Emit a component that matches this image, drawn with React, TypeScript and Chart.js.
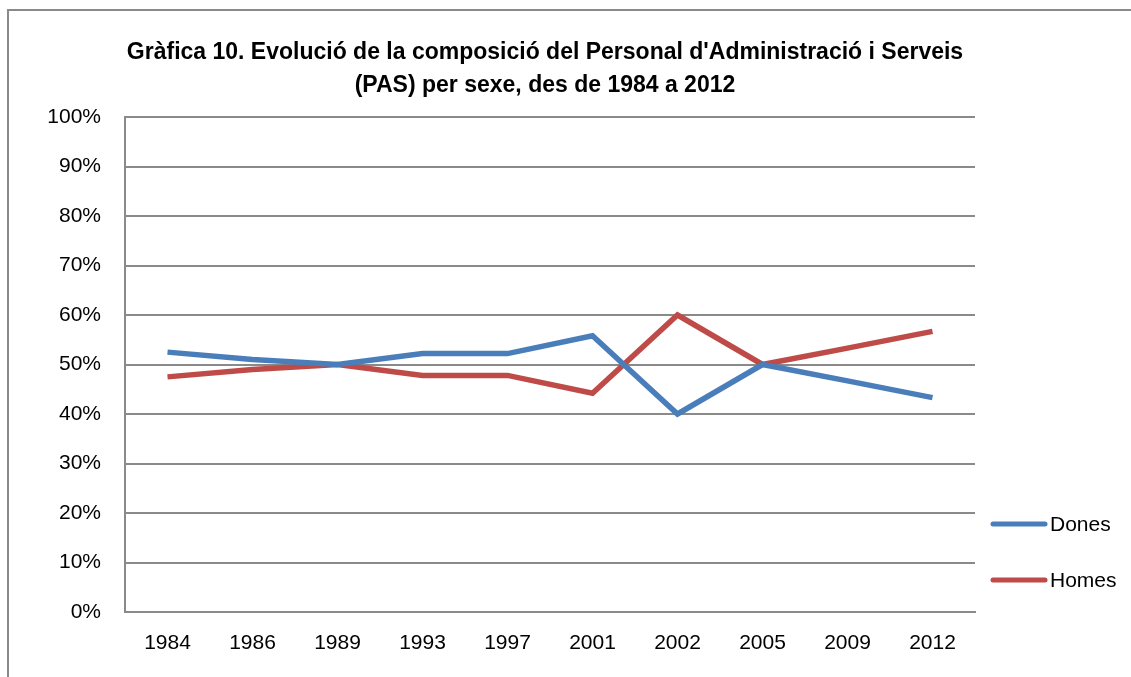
import React, { useEffect, useRef } from "react";
import { Chart, registerables } from "chart.js";

Chart.register(...registerables);

const years = ["1984", "1986", "1989", "1993", "1997", "2001", "2002", "2005", "2009", "2012"];
const dones = [52.5, 51.0, 50.0, 52.2, 52.2, 55.8, 40.0, 50.0, 46.7, 43.3];
const homes = [47.5, 49.0, 50.0, 47.8, 47.8, 44.2, 60.0, 50.0, 53.3, 56.7];
const titleLines = [
  "Gràfica 10. Evolució de la composició del Personal d'Administració i Serveis",
  "(PAS) per sexe, des de 1984 a 2012",
];
const seriesNames = ["Dones", "Homes"];
const seriesColors = ["#4a7ebb", "#be4b48"];

const FONT = "'Liberation Sans', Arial, sans-serif";

const decorPlugin = {
  id: "decor",
  beforeDraw(chart: any) {
    const ctx = chart.ctx;
    ctx.save();
    ctx.strokeStyle = "#8a8a8a";
    ctx.lineWidth = 2;
    ctx.beginPath();
    ctx.moveTo(8, 677);
    ctx.lineTo(8, 10);
    ctx.lineTo(1131, 10);
    ctx.stroke();
    ctx.restore();
  },
  afterDraw(chart: any) {
    const ctx = chart.ctx;
    ctx.save();
    // title
    ctx.fillStyle = "#000";
    ctx.font = `bold 23px ${FONT}`;
    ctx.textAlign = "center";
    ctx.textBaseline = "alphabetic";
    titleLines.forEach((t, i) => ctx.fillText(t, 545, 59 + i * 33));
    // legend
    chart.data.datasets.forEach((ds: any, i: number) => {
      const y = 524 + i * 56;
      ctx.strokeStyle = ds.borderColor;
      ctx.lineWidth = 5;
      ctx.lineCap = "round";
      ctx.beginPath();
      ctx.moveTo(993, y);
      ctx.lineTo(1045, y);
      ctx.stroke();
      ctx.fillStyle = "#000";
      ctx.font = `21px ${FONT}`;
      ctx.textAlign = "left";
      ctx.textBaseline = "middle";
      ctx.fillText(ds.label, 1050, y + 1);
    });
    ctx.restore();
  },
};

export default function App() {
  const ref = useRef<HTMLCanvasElement>(null);
  useEffect(() => {
    if (!ref.current) return;
    const chart = new Chart(ref.current, {
      type: "line",
      data: {
        labels: years,
        datasets: [
          { label: seriesNames[0], data: dones, borderColor: seriesColors[0], backgroundColor: seriesColors[0], borderWidth: 5.5, pointRadius: 0, tension: 0 },
          { label: seriesNames[1], data: homes, borderColor: seriesColors[1], backgroundColor: seriesColors[1], borderWidth: 5.5, pointRadius: 0, tension: 0 },
        ],
      },
      options: {
        responsive: false,
        animation: false,
        layout: { padding: { left: 0, top: 117, right: 156, bottom: 15 } },
        plugins: { legend: { display: false }, title: { display: false }, tooltip: { enabled: false } },
        scales: {
          x: {
            offset: true,
            grid: { display: false, drawTicks: false },
            border: { display: true, color: "#8a8a8a", width: 2 },
            ticks: { color: "#000", font: { family: FONT, size: 21 }, padding: 19, maxRotation: 0, autoSkip: false },
            afterFit: (s: any) => { s.height = 50; },
          },
          y: {
            min: 0,
            max: 100,
            grid: { color: "#8a8a8a", lineWidth: 2, drawTicks: false },
            border: { display: true, color: "#8a8a8a", width: 2 },
            ticks: { stepSize: 10, color: "#000", font: { family: FONT, size: 21 }, padding: 24, callback: (v: any) => v + "%" },
            afterFit: (s: any) => { s.width = 125; },
          },
        },
      },
      plugins: [decorPlugin],
    });
    return () => chart.destroy();
  }, []);
  return (
    <div style={{ position: "fixed", left: 0, top: 0, width: 1131, height: 677, background: "#fff" }}>
      <canvas ref={ref} width={1131} height={677} style={{ display: "block" }} />
    </div>
  );
}
